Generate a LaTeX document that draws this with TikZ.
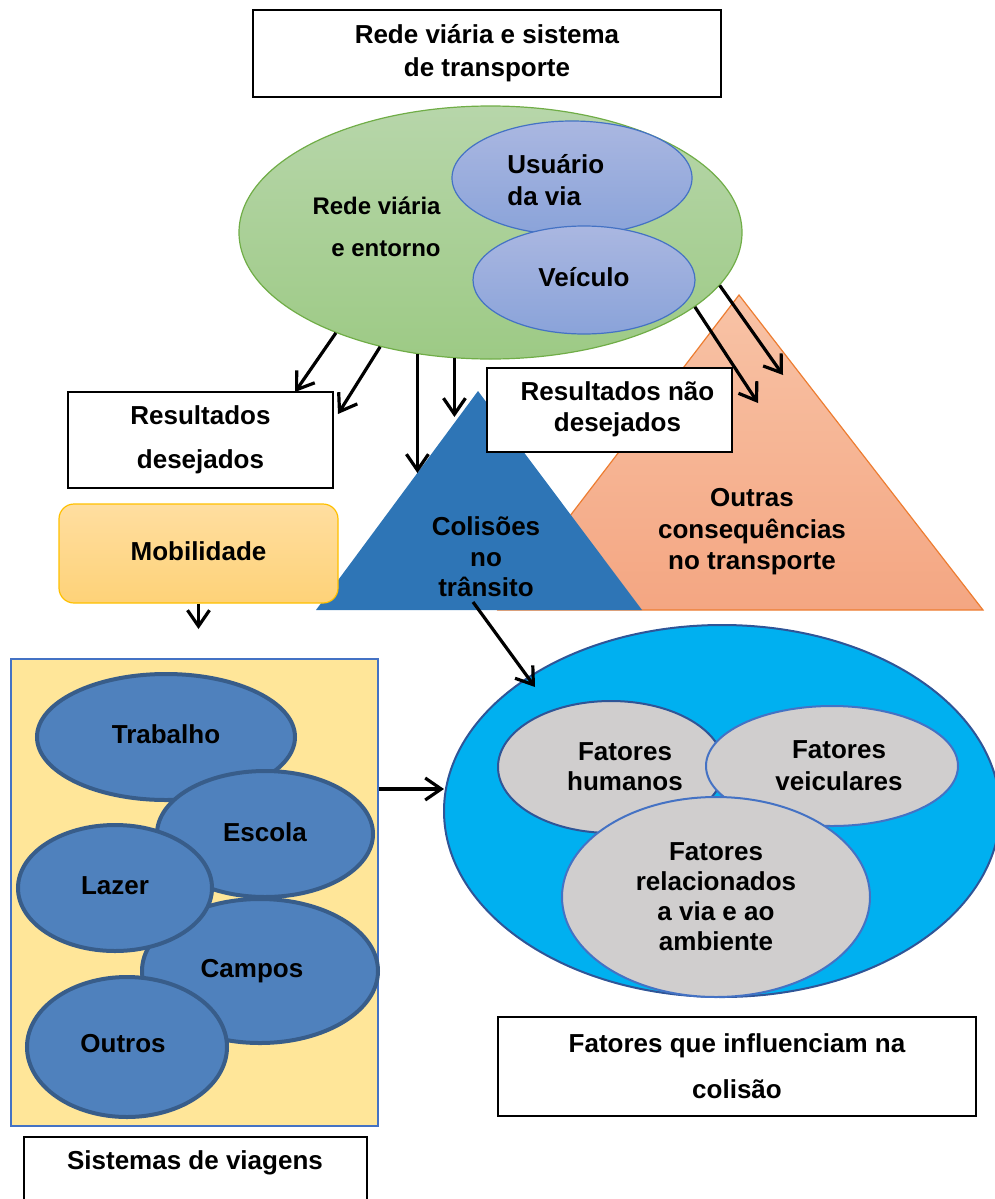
\documentclass[tikz,border=0pt]{standalone}
\usepackage{fontspec}
\setmainfont{Liberation Sans}
\usetikzlibrary{shapes.geometric, arrows.meta}
\definecolor{roadtop}{RGB}{183,214,170}
\definecolor{roadbot}{RGB}{157,202,133}
\definecolor{roadline}{RGB}{112,173,71}
\definecolor{lilactop}{RGB}{170,183,225}
\definecolor{lilacbot}{RGB}{138,163,217}
\definecolor{midblue}{RGB}{68,114,196}
\definecolor{crashblue}{RGB}{46,117,182}
\definecolor{salmontop}{RGB}{248,195,166}
\definecolor{salmonbot}{RGB}{244,166,130}
\definecolor{orange1}{RGB}{237,125,49}
\definecolor{mobtop}{RGB}{255,222,160}
\definecolor{mobbot}{RGB}{254,210,120}
\definecolor{gold1}{RGB}{255,192,0}
\definecolor{sand}{RGB}{255,230,153}
\definecolor{tripblue}{RGB}{79,129,189}
\definecolor{tripline}{RGB}{56,93,138}
\definecolor{cyan1}{RGB}{0,176,240}
\definecolor{navy1}{RGB}{47,85,151}
\definecolor{grey1}{RGB}{208,206,206}

\begin{document}
\begin{tikzpicture}[x=0.5pt, y=-0.5pt,
  txt/.style={font=\bfseries\fontsize{13}{#1}\selectfont, align=center, inner sep=0pt},
  txt/.default=16,
  wbox/.style={draw, line width=1pt, fill=white, inner sep=0pt},
  oval/.style={ellipse, inner sep=0pt},
  lilac/.style={oval, draw=midblue, line width=0.6pt, top color=lilactop, bottom color=lilacbot},
  trip/.style={oval, draw=tripline, line width=2pt, fill=tripblue, txt},
  factor/.style={oval, draw=midblue, line width=1pt, fill=grey1, txt=15},
  arr/.style={-{Straight Barb[length=8pt,width=11pt]}, line width=1.6pt}
]
  \useasboundingbox (0,0) rectangle (995,1199);

  \node[wbox, minimum width=234pt, minimum height=43.5pt, txt=16.5] (title) at (487,53) {Rede viária e sistema\\de transporte};

  % rede viaria
  \node[oval, draw=roadline, line width=0.6pt, top color=roadtop, bottom color=roadbot,
        minimum width=251.5pt, minimum height=126.5pt] (road) at (490.5,232.5) {};
  \node[txt, font=\bfseries\fontsize{12}{21}\selectfont, align=right, anchor=east] (roadtxt) at (441,227) {Rede viária\\e entorno};
  \node[lilac, minimum width=120pt, minimum height=57pt] (user) at (572,178) {};
  \node[txt, align=left, anchor=west] (usertxt) at (507,180) {Usuário\\da via};
  \node[lilac, minimum width=111pt, minimum height=54pt, txt] (car) at (584,280) {\raisebox{3.5pt}{Veículo}};

  % resultados
  \draw[draw=orange1, line width=0.6pt, top color=salmontop, bottom color=salmonbot]
    (739,295) coordinate (other) -- (983,610) -- (498,610) -- cycle;
  \fill[crashblue] (478,391) coordinate (crash) -- (642,610) -- (316,610) -- cycle;
  \node[txt=15.25] (crashtxt) at (486,557) {Colisões\\no\\trânsito};
  \node[txt=15.75] (othertxt) at (752,532) {Outras\\consequências\\no transporte};
  \node[wbox, minimum width=122.5pt, minimum height=42pt, txt=15.5] (bad) at (609.5,409.5) {\hspace*{8pt}Resultados não\\\hspace*{8pt}desejados};
  \node[wbox, minimum width=132.5pt, minimum height=48pt, txt=22] (good) at (200.5,440) {Resultados\\desejados};
  \node[draw=gold1, line width=0.6pt, rounded corners=7.5pt, top color=mobtop, bottom color=mobbot,
        minimum width=139.5pt, minimum height=49.5pt, txt] (mob) at (198.5,553.5) {\raisebox{2.5pt}{Mobilidade}};

  % sistemas de viagens
  \node[draw=midblue, line width=0.8pt, fill=sand, minimum width=183.5pt, minimum height=233.5pt] (trips) at (194.5,892.5) {};
  \node[trip, minimum width=129pt, minimum height=63pt] (work) at (166,737) {\raisebox{2.5pt}{Trabalho}};
  \node[trip, minimum width=108pt, minimum height=63pt] (school) at (265,834) {\raisebox{2pt}{Escola}};
  \node[trip, minimum width=118pt, minimum height=72pt] (fields) at (260,971) {\hspace*{-8pt}\raisebox{3pt}{Campos}};
  \node[trip, minimum width=97pt, minimum height=63pt] (leisure) at (115,888) {\raisebox{2.5pt}{Lazer}};
  \node[trip, minimum width=100pt, minimum height=70pt] (other2) at (127,1047) {\hspace*{-4pt}\raisebox{3.5pt}{Outros}};
  \node[wbox, minimum width=171.5pt, minimum height=48pt] (tripbox) at (195.5,1185) {};
  \node[txt] (tripboxtxt) at (195,1163) {Sistemas de viagens};

  % fatores
  \node[oval, draw=navy1, line width=1pt, fill=cyan1, minimum width=278pt, minimum height=186pt] (fat) at (722,811) {};
  \node[factor, draw=navy1, minimum width=113pt, minimum height=66pt] (human) at (611,767) {\hspace*{14pt}Fatores\\\hspace*{14pt}humanos};
  \node[factor, minimum width=126pt, minimum height=60pt, txt=16] (vehic) at (832,766) {\hspace*{7pt}Fatores\\\hspace*{7pt}veiculares};
  \node[factor, minimum width=154pt, minimum height=100pt] (envir) at (716,897) {Fatores\\relacionados\\a via e ao\\ambiente};
  \node[wbox, minimum width=239pt, minimum height=49.5pt, txt=23] (why) at (737,1066) {Fatores que influenciam na\\colisão};

  % setas
  \coordinate (goodA) at (295,392);
  \coordinate (goodB) at (338,414);
  \coordinate (crashA) at (418,473);
  \coordinate (crashB) at (454,417);
  \coordinate (otherA) at (758,403);
  \coordinate (otherB) at (783,375);
  \coordinate (crashS) at (473,602);
  \coordinate (crashE) at (535,687);
  \coordinate (mobS) at (198.5,629);
  \coordinate (fatW) at (444,789);
  \draw[arr] (road.213) -- (goodA);
  \draw[arr] (road.226) -- (goodB);
  \draw[arr] (road.239) -- (road.239 |- crashA);
  \draw[arr] (road.254) -- (road.254 |- crashB);
  \draw[arr] (road.340) -- (otherA);
  \draw[arr] (road.347) -- (otherB);
  \draw[arr] (crashS) -- (crashE);
  \draw[arr] (mob.south) -- (mobS);
  \draw[arr] (trips.east |- fatW) -- (fatW);
\end{tikzpicture}
\end{document}
